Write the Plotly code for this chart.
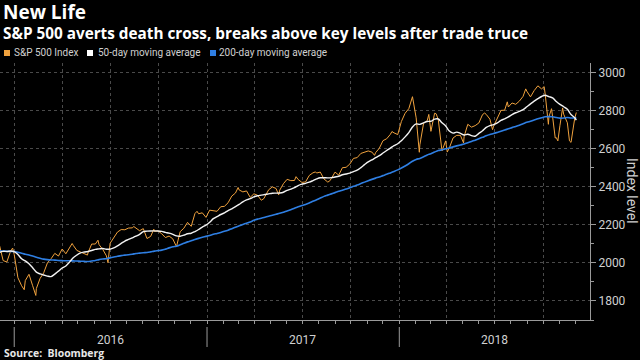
import pandas as pd
import plotly.graph_objects as go

# ---- Data: S&P 500 weekly closes (Friday / last trading day of week) ----
spx_2015 = [2058, 2045, 2019, 2051, 1995, 2055, 2097, 2110, 2105, 2071, 2053, 2108, 2061,
            2067, 2102, 2081, 2117, 2108, 2116, 2123, 2126, 2107, 2092, 2094, 2110, 2102,
            2076, 2077, 2127, 2079, 2104, 2078, 2092, 1971, 1989, 1921, 1961, 1958, 1931,
            1951, 2014, 2033, 2075, 2079, 2099, 2023, 2089, 2090, 2092, 2012, 2005, 2061]
spx_2016 = [2044, 1922, 1880, 1907, 1940, 1880, 1865, 1918, 1948, 2000, 2022, 2050, 2036,
            2073, 2048, 2081, 2092, 2065, 2057, 2047, 2052, 2099, 2099, 2096, 2071, 2037,
            2103, 2130, 2162, 2175, 2174, 2183, 2184, 2184, 2169, 2180, 2128, 2139, 2165,
            2168, 2153, 2133, 2141, 2126, 2085, 2164, 2182, 2213, 2192, 2259, 2258, 2263, 2239]
spx_2017 = [2277, 2275, 2271, 2295, 2297, 2316, 2351, 2367, 2383, 2373, 2378, 2344, 2363,
            2355, 2329, 2349, 2384, 2399, 2391, 2382, 2416, 2439, 2432, 2433, 2438, 2423,
            2425, 2459, 2473, 2472, 2477, 2441, 2425, 2443, 2477, 2461, 2500, 2502, 2519,
            2549, 2553, 2575, 2581, 2588, 2582, 2579, 2602, 2642, 2652, 2675, 2683, 2674]
spx_2018 = [2743, 2786, 2810, 2873, 2762, 2620, 2732, 2747, 2691, 2786, 2752, 2588, 2641,
            2604, 2656, 2670, 2670, 2663, 2728, 2713, 2721, 2735, 2779, 2780, 2755, 2718,
            2760, 2801, 2802, 2819, 2840, 2833, 2850, 2875, 2902, 2872, 2905, 2930, 2914,
            2885, 2767, 2768, 2658, 2723, 2781, 2736, 2633, 2760]
last_date = "2018-12-03"
last_value = 2790

# intra-week closes (turning points)
extra_dates = ["2015-08-25", "2015-09-29", "2015-11-03", "2015-12-29", "2016-01-20",
               "2016-02-11", "2016-04-20", "2016-05-19", "2016-06-08", "2016-06-27",
               "2016-08-15", "2016-09-22", "2016-12-13", "2017-03-01", "2017-04-19",
               "2017-05-17", "2017-06-19", "2017-07-26", "2017-08-21", "2017-11-15",
               "2017-12-18", "2018-02-08", "2018-02-26", "2018-03-12", "2018-04-02",
               "2018-05-03", "2018-06-12", "2018-06-27", "2018-07-25", "2018-08-29",
               "2018-09-20", "2018-10-03", "2018-10-11", "2018-10-17", "2018-10-24",
               "2018-10-29", "2018-11-07", "2018-11-20"]
extra_values = [1868, 1884, 2109, 2078, 1859, 1829, 2102, 2041, 2119, 2001, 2191, 2177,
                2271, 2396, 2338, 2357, 2453, 2478, 2428, 2565, 2690, 2581, 2780, 2783,
                2582, 2630, 2787, 2700, 2846, 2914, 2931, 2926, 2728, 2810, 2656, 2641,
                2814, 2641]

years = ["2016", "2017", "2018"]
year_mid = ["2016-07-02", "2017-07-02", "2018-06-30"]
year_start = ["2016-01-01", "2017-01-01", "2018-01-01"]
legend_labels = ["S&P 500 Index", "50-day moving average", "200-day moving average"]

# ---- Build series ----
weekly_dates = (list(pd.date_range("2015-01-02", "2015-12-25", freq="W-FRI")) +
                list(pd.date_range("2016-01-01", "2016-12-30", freq="W-FRI")) +
                list(pd.date_range("2017-01-06", "2017-12-29", freq="W-FRI")) +
                list(pd.date_range("2018-01-05", "2018-11-30", freq="W-FRI")))
weekly = pd.concat([
    pd.Series(spx_2015 + spx_2016 + spx_2017 + spx_2018, index=pd.DatetimeIndex(weekly_dates)),
    pd.Series([last_value], index=pd.to_datetime([last_date]))])
s = pd.concat([weekly, pd.Series(extra_values, index=pd.to_datetime(extra_dates))]).sort_index()
# moving averages on the regular weekly sampling: 10 weeks ~ 50 days, 40 weeks ~ 200 days
ma50 = weekly.rolling(10).mean()
ma200 = weekly.rolling(40).mean()

ORANGE = "#f0a23e"
BLUE = "#2f7fe3"
WHITE = "#f2f2f2"
GRID = "#4a4a4a"
AX = "#9a9a9a"
TXT = "#d0d0d0"

fig = go.Figure()
fig.add_trace(go.Scatter(x=s.index, y=s.values, mode="lines",
                         line=dict(color=ORANGE, width=1), name=legend_labels[0]))
fig.add_trace(go.Scatter(x=ma200.index, y=ma200.values, mode="lines",
                         line=dict(color=BLUE, width=1.6, shape="spline"), name=legend_labels[2]))
fig.add_trace(go.Scatter(x=ma50.index, y=ma50.values, mode="lines",
                         line=dict(color=WHITE, width=1.4, shape="spline"), name=legend_labels[1]))

H = 257.0
W = 590.0
def py(p):
    return (320 - p) / H
def px(p):
    return p / W

ann = []
ann.append(dict(text="<b>New Life</b>", x=px(1), y=py(12), xref="paper", yref="paper",
                xanchor="left", yanchor="middle", showarrow=False,
                font=dict(family="Open Sans", size=19, color="white")))
ann.append(dict(text="<b>S&P 500 averts death cross, breaks above key levels after trade truce</b>",
                x=px(1), y=py(33), xref="paper", yref="paper", xanchor="left", yanchor="middle",
                showarrow=False, font=dict(family="Open Sans", size=15.3, color="white")))
shapes = []
legend_pos = [(4, 13), (87, 97), (210, 218)]
legend_cols = [ORANGE, "#ffffff", BLUE]
for label, col, (sq, tx) in zip(legend_labels, legend_cols, legend_pos):
    shapes.append(dict(type="rect", xref="paper", yref="paper", x0=px(sq), x1=px(sq + 6),
                       y0=py(56), y1=py(50), fillcolor=col, line=dict(width=0)))
    ann.append(dict(text=label, x=px(tx - 1), y=py(53),
                    xref="paper", yref="paper", xanchor="left", yanchor="middle",
                    showarrow=False, font=dict(family="Roboto", size=10, color=TXT)))
for yr, xm in zip(years, year_mid):
    ann.append(dict(text=yr, x=xm, y=py(340), xref="x", yref="paper", xanchor="center",
                    yanchor="middle", showarrow=False,
                    font=dict(family="Roboto", size=12, color=TXT)))
ann.append(dict(text="Index level", x=px(632), y=py(191), xref="paper", yref="paper",
                textangle=90, xanchor="center", yanchor="middle", showarrow=False,
                font=dict(family="Roboto", size=14, color=TXT)))
ann.append(dict(text="<b>Source:  Bloomberg</b>", x=px(2), y=py(353), xref="paper", yref="paper",
                xanchor="left", yanchor="middle", showarrow=False,
                font=dict(family="Open Sans", size=10.4, color="#e8e8e8")))

shapes += [dict(type="line", xref="x", yref="paper", x0=d, x1=d, y0=py(327), y1=py(347),
                line=dict(color=AX, width=1)) for d in year_start]

fig.update_layout(
    width=640, height=360,
    paper_bgcolor="black", plot_bgcolor="black",
    margin=dict(l=0, r=50, t=63, b=40),
    showlegend=False,
    annotations=ann, shapes=shapes,
    xaxis=dict(type="date", range=["2015-12-05", "2018-12-29"],
               showline=True, linecolor=AX, linewidth=1,
               ticks="outside", ticklen=3, tickcolor=AX,
               dtick="M3", tick0="2016-01-01", showticklabels=False,
               showgrid=True, gridcolor=GRID, griddash="dot", gridwidth=1,
               minor=dict(dtick="M1", ticks="outside", ticklen=3, tickcolor=AX, showgrid=False),
               zeroline=False),
    yaxis=dict(side="right", range=[1700, 3050], dtick=200, tick0=0,
               showline=True, linecolor=AX, linewidth=1,
               ticks="outside", ticklen=5, tickcolor=AX,
               tickfont=dict(family="Roboto", size=12, color=TXT),
               showgrid=True, gridcolor=GRID, griddash="dot", gridwidth=1,
               minor=dict(dtick=100, ticks="outside", ticklen=3, tickcolor=AX, showgrid=False),
               zeroline=False),
)

fig.write_html("out.html", config={"displayModeBar": False},
               post_script="document.body.style.margin='0';document.body.style.overflow='hidden';")
